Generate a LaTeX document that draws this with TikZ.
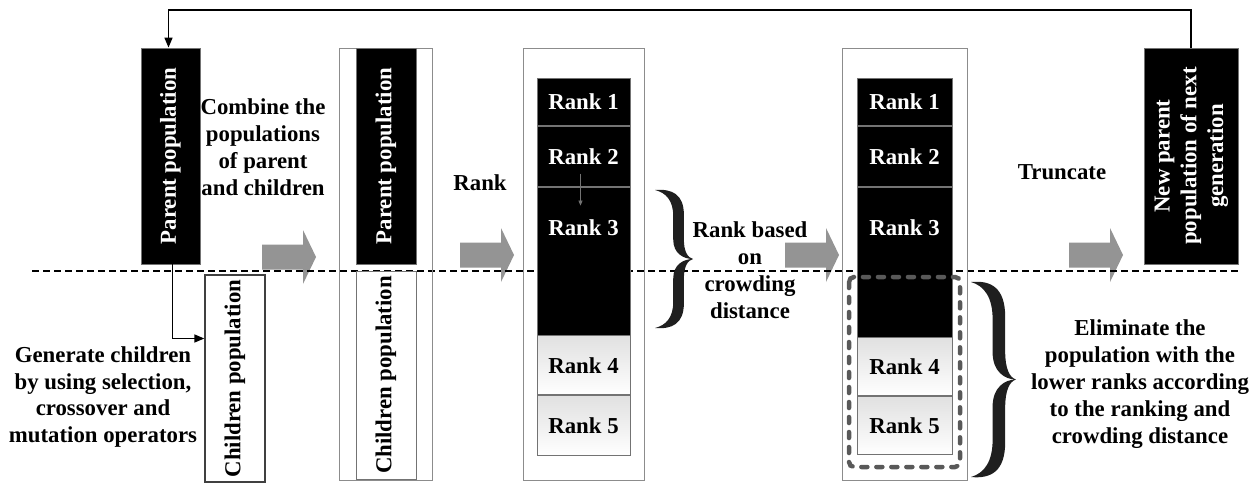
\documentclass[tikz,border=0pt]{standalone}
\usepackage{fontspec}
\setmainfont{Liberation Serif}
\usepackage{graphicx}
\usetikzlibrary{positioning,arrows.meta}

\tikzset{
  lbl/.style={font=\fontsize{22.8}{26.8}\selectfont\bfseries, align=center, inner sep=0pt},
  popbox/.style={lbl, draw=black!55, line width=0.8pt, fill=black, text=white},
  kidbox/.style={lbl, draw=black!75, line width=1.3pt},
  frame/.style={draw=black!45, line width=0.8pt, inner sep=0pt},
  rankblk/.style={popbox, minimum width=93pt},
  ranklow/.style={lbl, draw=black!55, line width=0.8pt, top color=black!12, bottom color=white, minimum width=93pt},
  cutbox/.style={draw=black!65, line width=4.5pt, dash pattern=on 6pt off 9pt, line cap=round, rounded corners=5pt},
  link/.style={line width=1.5pt, -{Triangle[length=10pt,width=8pt]}},
  bigarrow/.pic={\fill[black!42] (-27,-12.5) -- (14,-12.5) -- (14,-27) -- (27,0) -- (14,27) -- (14,12.5) -- (-27,12.5) -- cycle;},
  curly/.pic={\fill[black!88] (0,0) .. controls (0.3,0.02) and (0.48,0.08) .. (0.48,0.19) -- (0.48,0.36)
      .. controls (0.48,0.46) and (0.75,0.5) .. (1,0.5)
      .. controls (0.75,0.5) and (0.48,0.54) .. (0.48,0.64) -- (0.48,0.81)
      .. controls (0.48,0.92) and (0.3,0.98) .. (0,1)
      .. controls (0.45,1.01) and (0.76,0.97) .. (0.76,0.82) -- (0.76,0.64)
      .. controls (0.76,0.56) and (0.85,0.51) .. (1,0.5)
      .. controls (0.85,0.49) and (0.76,0.44) .. (0.76,0.36) -- (0.76,0.18)
      .. controls (0.76,0.03) and (0.45,-0.01) .. (0,0) -- cycle;}
}

\begin{document}
\begin{tikzpicture}[x=1pt,y=-1pt]
\useasboundingbox (0,0) rectangle (1260,485);

% process arrows and the split line
\pic at (289,257) {bigarrow};
\pic at (487,255) {bigarrow};
\pic at (812,255) {bigarrow};
\pic at (1096,255) {bigarrow};
\draw[line width=2pt, dash pattern=on 7pt off 4pt] (32,271) -- (1240,271);

% first generation
\node[popbox, minimum width=59pt, minimum height=216pt] (par) at (170.5,156) {\rotatebox{90}{Parent population}};
\node[kidbox, minimum width=60pt, minimum height=207pt] (kids) at (235,378.5) {\rotatebox{90}{Children population}};
\node[lbl] (gen) at (103,397) {Generate children\\by using selection,\\crossover and\\mutation operators};
\node[lbl] (comb) at (263,147) {Combine the\\populations\\of parent\\and children};

% combined population
\node[frame, minimum width=93pt, minimum height=432pt] (both) at (385.5,264) {};
\node[popbox, minimum width=60pt, minimum height=216pt] (par2) at (386,156) {\rotatebox{90}{Parent population}};
\node[kidbox, draw=black!55, line width=0.8pt, minimum width=60pt, minimum height=208pt] (kids2) at (386,375) {\rotatebox{90}{Children population}};
\node[lbl] (rank) at (480,183) {Rank};

% non-dominated fronts
\node[frame, minimum width=121pt, minimum height=432pt] (ranked) at (583.5,264) {};
\node[rankblk, minimum height=47pt, anchor=north] (r1) at (583.5,78) {Rank 1};
\node[rankblk, minimum height=60pt, below=0pt of r1] (r2) {Rank 2};
\node[rankblk, minimum height=148pt, below=0pt of r2,
  label={[lbl, text=white, anchor=north, yshift=-33pt]north:Rank 3}] (r3) {};
\node[ranklow, minimum height=59pt, below=0pt of r3] (r4) {Rank 4};
\node[ranklow, minimum height=60pt, below=0pt of r4] (r5) {Rank 5};
\draw[black!55, line width=0.7pt, -{Triangle[length=5pt,width=4pt]}] ([xshift=-3pt,yshift=13pt]r2.south) -- ([xshift=-3pt,yshift=-19pt]r3.north);

\pic[xscale=38, yscale=138] at (655,190) {curly};
\node[lbl] (crowd) at (750,270) {Rank based\\on\\crowding\\distance};

% sorted by crowding distance
\node[frame, minimum width=125pt, minimum height=432pt] (sorted) at (904.5,264) {};
\node[rankblk, minimum width=95pt, minimum height=47pt, anchor=north] (s1) at (904.5,78) {Rank 1};
\node[rankblk, minimum width=95pt, minimum height=60pt, below=0pt of s1] (s2) {Rank 2};
\node[rankblk, minimum width=95pt, minimum height=150pt, below=0pt of s2,
  label={[lbl, text=white, anchor=north, yshift=-33pt]north:Rank 3}] (s3) {};
\node[ranklow, minimum width=95pt, minimum height=58pt, below=0pt of s3] (s4) {Rank 4};
\node[ranklow, minimum width=95pt, minimum height=58pt, below=0pt of s4] (s5) {Rank 5};
\draw[cutbox] (849,277) rectangle (960,467);

\pic[xscale=45, yscale=195] at (971,282) {curly};
\node[lbl] (elim) at (1140,384) {Eliminate the\\population with the\\lower ranks according\\to the ranking and\\crowding distance};
\node[lbl] (trunc) at (1062,172) {Truncate};

% next generation
\node[popbox, minimum width=94pt, minimum height=216pt] (newpar) at (1191,156)
  {\rotatebox{90}{\begin{tabular}{@{}c@{}}New parent\\population of next\\generation\end{tabular}}};

% loop back and offspring
\coordinate (top) at (0,10);
\draw[link] (newpar.north) -- (newpar.north |- top) -| ([xshift=-2pt]par.north);
\draw[link] ([xshift=2pt]par.south) |- ([yshift=40pt]kids.west);
\end{tikzpicture}
\end{document}
